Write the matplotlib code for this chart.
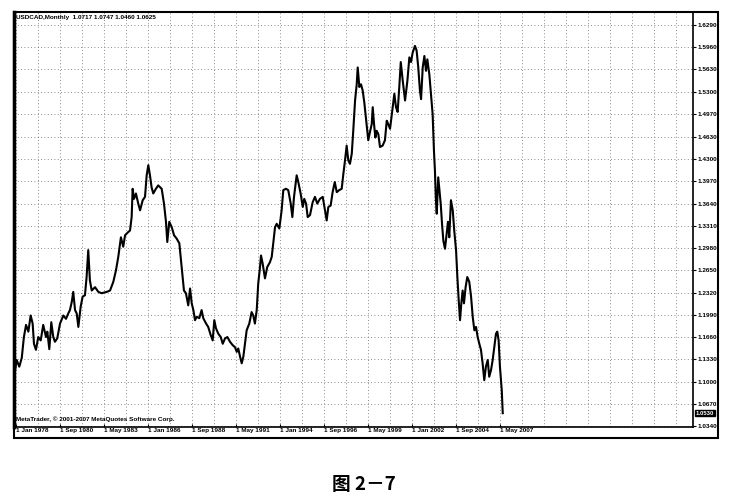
import matplotlib
matplotlib.use('Agg')
import matplotlib.pyplot as plt
from matplotlib.patches import Rectangle
import numpy as np
import pandas as pd

# USDCAD monthly close (decimal year, price)
years = [
    1977.95, 1978.04, 1978.20, 1978.35, 1978.48, 1978.61, 1978.75, 1978.89, 1979.01, 1979.09,
    1979.21, 1979.35, 1979.50, 1979.65, 1979.82, 1979.90, 1980.02, 1980.14, 1980.26, 1980.36,
    1980.50, 1980.67, 1980.87, 1981.03, 1981.17, 1981.27, 1981.38, 1981.47, 1981.58, 1981.68,
    1981.78, 1981.92, 1982.04, 1982.18, 1982.28, 1982.38, 1982.48, 1982.59, 1982.79, 1982.99,
    1983.19, 1983.50, 1983.70, 1983.90, 1984.06, 1984.20, 1984.36, 1984.50, 1984.61, 1984.81,
    1984.91, 1985.01, 1985.07, 1985.15, 1985.27, 1985.41, 1985.52, 1985.68, 1985.82, 1985.92,
    1986.02, 1986.12, 1986.22, 1986.32, 1986.48, 1986.62, 1986.83, 1986.97, 1987.09, 1987.17,
    1987.29, 1987.44, 1987.58, 1987.74, 1987.90, 1987.98, 1988.10, 1988.18, 1988.30, 1988.44,
    1988.55, 1988.65, 1988.75, 1988.85, 1988.95, 1989.11, 1989.25, 1989.35, 1989.52, 1989.65,
    1989.80, 1989.92, 1990.02, 1990.12, 1990.26, 1990.41, 1990.53, 1990.67, 1990.81, 1990.97,
    1991.13, 1991.27, 1991.38, 1991.47, 1991.58, 1991.68, 1991.78, 1991.88, 1991.98, 1992.14,
    1992.28, 1992.38, 1992.48, 1992.59, 1992.68, 1992.79, 1992.85, 1992.95, 1993.09, 1993.23,
    1993.39, 1993.50, 1993.59, 1993.70, 1993.80, 1993.96, 1994.10, 1994.20, 1994.36, 1994.50,
    1994.65, 1994.75, 1994.85, 1995.01, 1995.11, 1995.25, 1995.38, 1995.47, 1995.58, 1995.68,
    1995.82, 1995.98, 1996.12, 1996.26, 1996.42, 1996.59, 1996.73, 1996.83, 1996.93, 1997.07,
    1997.19, 1997.32, 1997.44, 1997.59, 1997.74, 1997.84, 1997.94, 1998.04, 1998.14, 1998.24,
    1998.35, 1998.44, 1998.55, 1998.65, 1998.71, 1998.81, 1998.91, 1999.01, 1999.11, 1999.25,
    1999.35, 1999.45, 1999.56, 1999.62, 1999.70, 1999.78, 1999.86, 1999.96, 2000.06, 2000.22,
    2000.36, 2000.47, 2000.56, 2000.67, 2000.83, 2000.93, 2001.03, 2001.13, 2001.23, 2001.32,
    2001.44, 2001.58, 2001.72, 2001.84, 2001.94, 2002.04, 2002.18, 2002.28, 2002.38, 2002.48,
    2002.55, 2002.65, 2002.75, 2002.85, 2002.93, 2003.05, 2003.15, 2003.25, 2003.33, 2003.39,
    2003.45, 2003.50, 2003.59, 2003.65, 2003.74, 2003.82, 2003.90, 2004.00, 2004.10, 2004.18,
    2004.26, 2004.36, 2004.47, 2004.56, 2004.67, 2004.75, 2004.83, 2004.91, 2004.99, 2005.07,
    2005.15, 2005.25, 2005.35, 2005.47, 2005.58, 2005.68, 2005.78, 2005.88, 2005.98, 2006.08,
    2006.18, 2006.28, 2006.38, 2006.48, 2006.59, 2006.68, 2006.79, 2006.89, 2006.99, 2007.09,
    2007.17, 2007.25, 2007.33, 2007.44, 2007.50,
]
prices = [
    1.117, 1.132, 1.122, 1.135, 1.166, 1.184, 1.174, 1.198, 1.186, 1.156,
    1.147, 1.166, 1.161, 1.184, 1.166, 1.174, 1.148, 1.188, 1.166, 1.159,
    1.164, 1.186, 1.198, 1.193, 1.201, 1.206, 1.218, 1.233, 1.206, 1.201,
    1.181, 1.211, 1.226, 1.228, 1.255, 1.295, 1.250, 1.235, 1.240, 1.233,
    1.231, 1.233, 1.235, 1.248, 1.265, 1.285, 1.314, 1.300, 1.317, 1.322,
    1.324, 1.344, 1.386, 1.371, 1.379, 1.364, 1.354, 1.369, 1.374, 1.406,
    1.421, 1.406, 1.388, 1.379, 1.386, 1.391, 1.386, 1.364, 1.337, 1.307,
    1.337, 1.329, 1.317, 1.312, 1.305, 1.285, 1.255, 1.235, 1.231, 1.213,
    1.238, 1.216, 1.206, 1.191, 1.196, 1.194, 1.206, 1.194, 1.186, 1.181,
    1.169, 1.161, 1.191, 1.179, 1.171, 1.166, 1.156, 1.164, 1.166, 1.159,
    1.154, 1.151, 1.144, 1.149, 1.137, 1.127, 1.137, 1.156, 1.176, 1.186,
    1.203, 1.198, 1.186, 1.206, 1.245, 1.270, 1.287, 1.275, 1.253, 1.270,
    1.277, 1.285, 1.305, 1.329, 1.334, 1.327, 1.354, 1.384, 1.386, 1.384,
    1.364, 1.344, 1.374, 1.406, 1.396, 1.379, 1.359, 1.371, 1.364, 1.344,
    1.347, 1.366, 1.374, 1.364, 1.371, 1.374, 1.354, 1.339, 1.359, 1.361,
    1.381, 1.396, 1.381, 1.384, 1.386, 1.408, 1.428, 1.450, 1.428, 1.423,
    1.438, 1.472, 1.517, 1.541, 1.566, 1.537, 1.541, 1.532, 1.514, 1.482,
    1.458, 1.470, 1.482, 1.507, 1.482, 1.462, 1.472, 1.467, 1.448, 1.450,
    1.458, 1.487, 1.482, 1.475, 1.507, 1.527, 1.507, 1.500, 1.537, 1.574,
    1.546, 1.517, 1.546, 1.581, 1.574, 1.588, 1.598, 1.591, 1.566, 1.532,
    1.519, 1.566, 1.583, 1.561, 1.578, 1.556, 1.527, 1.497, 1.443, 1.413,
    1.369, 1.349, 1.403, 1.388, 1.364, 1.334, 1.309, 1.297, 1.319, 1.337,
    1.314, 1.369, 1.354, 1.324, 1.295, 1.255, 1.221, 1.191, 1.216, 1.235,
    1.216, 1.240, 1.255, 1.248, 1.226, 1.196, 1.176, 1.181, 1.166, 1.156,
    1.147, 1.127, 1.102, 1.122, 1.132, 1.107, 1.117, 1.132, 1.151, 1.171,
    1.174, 1.161, 1.122, 1.087, 1.053,
]

price_ticks = [1.6290, 1.5960, 1.5630, 1.5300, 1.4970, 1.4630, 1.4300, 1.3970, 1.3640, 1.3310,
               1.2980, 1.2650, 1.2320, 1.1990, 1.1660, 1.1330, 1.1000, 1.0670, 1.0340]
date_labels = ['1 Jan 1978', '1 Sep 1980', '1 May 1983', '1 Jan 1986', '1 Sep 1988', '1 May 1991',
               '1 Jan 1994', '1 Sep 1996', '1 May 1999', '1 Jan 2002', '1 Sep 2004', '1 May 2007']
header = 'USDCAD,Monthly  1.0717 1.0747 1.0460 1.0625'
caption = '图 2－7'

W, H = 739, 503
fig = plt.figure(figsize=(W / 100, H / 100), dpi=100)

# plot area in pixels: x 14..693, y 12..427
ax = fig.add_axes([14 / W, 1 - 427 / H, 679 / W, 415 / H])

dates = pd.to_datetime(date_labels, format='%d %b %Y')
date_pos = [d.year + (d.month - 1) / 12 for d in dates]

# grid, every 16 months and at each price label
for gx in 1978 + np.arange(0, 500, 16) / 12:
    ax.axvline(gx, color='#666666', lw=0.6, linestyle=(0, (1, 3)), zorder=1)
for gy in price_ticks:
    ax.axhline(gy, color='#666666', lw=0.6, linestyle=(0, (1, 3)), zorder=1)

ax.plot(years, prices, color='black', lw=1.5, zorder=3)

ax.set_xlim(1977.88, 2019.03)
ax.set_ylim(1.0325, 1.6483)

ax.yaxis.tick_right()
ax.set_yticks(price_ticks)
ax.set_yticklabels([f'{t:.4f}' for t in price_ticks], fontsize=4.6, fontweight='bold',
                   family='Liberation Sans')
ax.tick_params(axis='y', length=2.5, width=0.8, pad=1)

ax.set_xticks(date_pos)
ax.set_xticklabels(date_labels, fontsize=4.6, fontweight='bold', family='Liberation Sans', ha='left')
ax.tick_params(axis='x', length=2.5, width=0.8, pad=1, direction='in')

for side in ['left', 'top', 'right', 'bottom']:
    ax.spines[side].set_linewidth(1.2)
ax.spines['left'].set_linewidth(2.5)

# outer frame around chart and axis strips
fig.add_artist(Rectangle((14 / W, 1 - 438 / H), 704 / W, 426 / H, transform=fig.transFigure,
                         fill=False, edgecolor='black', lw=1.5))

# last price marker on the scale
ax.text(1.004, prices[-1], f'{prices[-1]:.4f}', transform=ax.get_yaxis_transform(),
        fontsize=4.3, fontweight='bold', color='white', va='center', ha='left',
        family='Liberation Sans',
        bbox=dict(boxstyle='square,pad=0.12', fc='black', ec='black'))

ax.text(0.003, 0.993, header, transform=ax.transAxes, fontsize=4.6, fontweight='bold',
        va='top', ha='left', family='Liberation Sans')
ax.text(0.003, 0.012, 'MetaTrader, © 2001-2007 MetaQuotes Software Corp.', transform=ax.transAxes,
        fontsize=4.6, fontweight='bold', va='bottom', ha='left', family='Liberation Sans')

fig.text(364 / W, 1 - 485 / H, caption, fontsize=13.5, fontweight='bold', ha='center', va='center',
         family=['Noto Sans CJK SC', 'DejaVu Sans'])

fig.savefig('out.png', dpi=100)
